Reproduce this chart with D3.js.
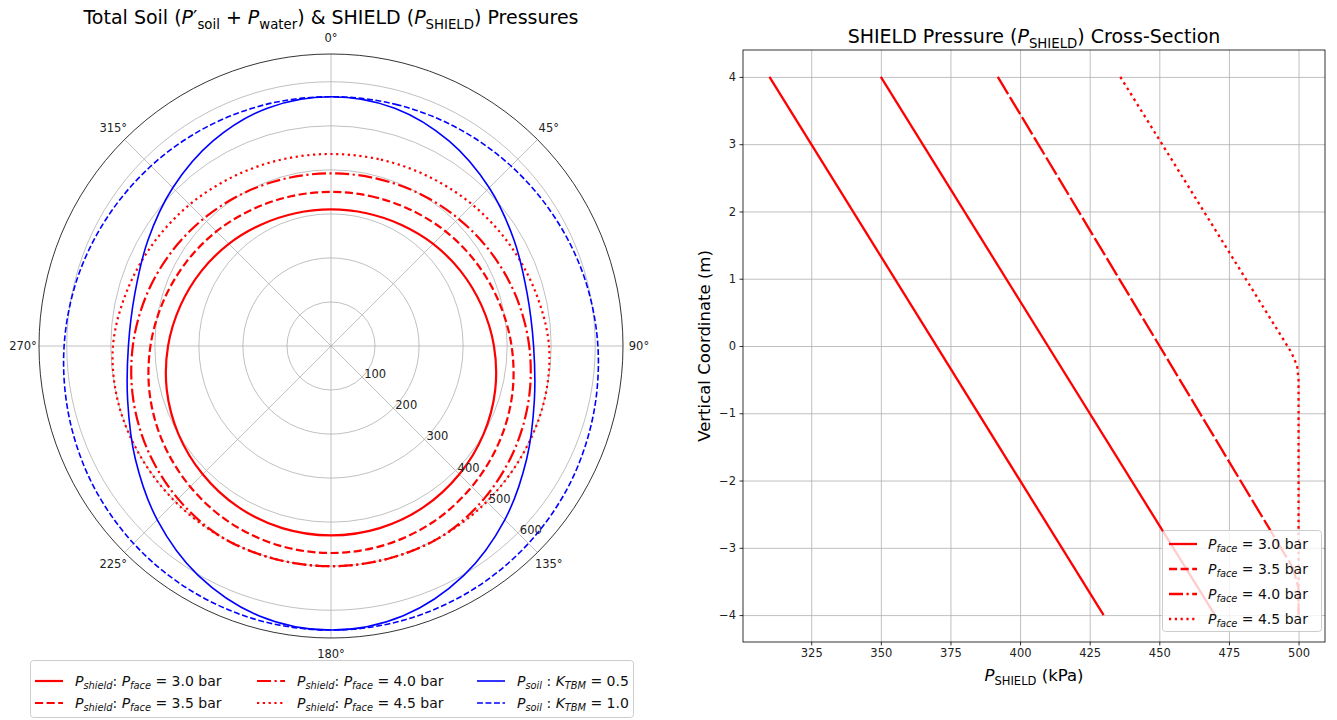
<!DOCTYPE html>
<html>
<head>
<meta charset="utf-8">
<script src="https://cdn.jsdelivr.net/npm/d3@7"></script>
<style>
body { margin: 0; background: #fff; }
svg { font-family: "DejaVu Sans", sans-serif; }
</style>
</head>
<body>
<svg id="chart" width="1337" height="720"></svg>
<script>
// values (kPa), angle 0 = crown, clockwise
const polarAngles = [0, 15, 30, 45, 60, 75, 90, 105, 120, 135, 150, 165, 180, 195, 210, 225, 240, 255, 270, 285, 300, 315, 330, 345];
const shield30 = [310, 312, 318, 328, 340, 354, 370, 386, 400, 412, 422, 428, 430, 428, 422, 412, 400, 386, 370, 354, 340, 328, 318, 312];
const shield35 = [350, 352, 358, 368, 380, 394, 410, 426, 440, 452, 462, 468, 470, 468, 462, 452, 440, 426, 410, 394, 380, 368, 358, 352];
const shield40 = [392, 394, 400, 409, 421, 435, 450, 465, 479, 491, 500, 500, 500, 500, 500, 491, 479, 465, 450, 435, 421, 409, 400, 394];
const shield45 = [436, 438, 444, 454, 466, 480, 495, 500, 500, 500, 500, 500, 500, 500, 500, 500, 500, 500, 495, 480, 466, 454, 444, 438];
const soilK05 = [566, 559, 537, 508, 480, 461, 460, 478, 513, 558, 602, 634, 645, 634, 602, 558, 513, 478, 460, 461, 480, 508, 537, 559];
const soilK10 = [566, 568, 572, 578, 586, 596, 606, 616, 626, 634, 640, 644, 645, 644, 640, 634, 626, 616, 606, 596, 586, 578, 572, 568];
const rTicks = [100, 200, 300, 400, 500, 600];
const thetaTicks = [0, 45, 90, 135, 180, 225, 270, 315];

// cross-section profiles: [P_SHIELD kPa, vertical coordinate m]
const prof30 = [[310, 4], [430, -4]];
const prof35 = [[350, 4], [470, -4]];
const prof40 = [[392, 4], [498, -3.3], [500, -3.6], [500, -4]];
const prof45 = [[436, 4], [497.5, -0.1], [499.5, -0.3], [500, -0.5], [500, -4]];
const faceLabels = ["3.0", "3.5", "4.0", "4.5"];
const kLabels = ["0.5", "1.0"];
const xTicks = [325, 350, 375, 400, 425, 450, 475, 500];
const yTicks = [4, 3, 2, 1, 0, -1, -2, -3, -4];

const svg = d3.select("#chart");
const GRID = "#b0b0b0";
const RED = "#ff0000", BLUE = "#0000ff";

// mathtext-ish text: parts = [text, style]; style: i italic, s subscript, si sub italic
function rich(el, parts, size) {
  let shift = 0;
  parts.forEach(p => {
    const st = p[1] || "";
    const t = el.append("tspan").text(p[0]);
    const target = st.includes("s") ? size * 0.24 : 0;
    if (target !== shift) { t.attr("dy", target - shift); shift = target; }
    if (st === "i" || st === "si") t.attr("font-style", "italic");
    if (st.includes("s")) t.attr("font-size", size * 0.7);
  });
  return el;
}

// ---------------- polar panel ----------------
const cx = 331, cy = 346, R = 292;
const rScale = d3.scaleLinear().domain([0, 663]).range([0, R]);
const pg = svg.append("g").attr("transform", `translate(${cx},${cy})`);

pg.selectAll("circle.grid").data(rTicks).join("circle")
  .attr("r", d => rScale(d)).attr("fill", "none").attr("stroke", GRID).attr("stroke-width", 0.8);
pg.selectAll("line.spoke").data(thetaTicks).join("line")
  .attr("x1", 0).attr("y1", 0)
  .attr("x2", d => R * Math.sin(d * Math.PI / 180))
  .attr("y2", d => -R * Math.cos(d * Math.PI / 180))
  .attr("stroke", GRID).attr("stroke-width", 0.8);

const radial = d3.lineRadial()
  .angle(d => d[0] * Math.PI / 180)
  .radius(d => rScale(d[1]))
  .curve(d3.curveCatmullRomClosed.alpha(0.5));

const polarSeries = [
  { v: shield30, c: RED, w: 2.2, dash: null },
  { v: shield35, c: RED, w: 2.2, dash: "8.1,3.5" },
  { v: shield40, c: RED, w: 2.2, dash: "14,3.5,2.2,3.5" },
  { v: shield45, c: RED, w: 2.2, dash: "2.2,3.6" },
  { v: soilK05, c: BLUE, w: 1.6, dash: null },
  { v: soilK10, c: BLUE, w: 1.6, dash: "5.9,2.6" }
];
polarSeries.forEach(s => {
  pg.append("path").attr("d", radial(d3.zip(polarAngles, s.v)))
    .attr("fill", "none").attr("stroke", s.c).attr("stroke-width", s.w)
    .attr("stroke-dasharray", s.dash);
});

pg.append("circle").attr("r", R).attr("fill", "none").attr("stroke", "#000").attr("stroke-width", 0.8);

// radial labels along 135°
const a135 = 135 * Math.PI / 180;
pg.selectAll("text.rl").data(rTicks).join("text")
  .attr("x", d => rScale(d) * Math.sin(a135) + 2)
  .attr("y", d => -rScale(d) * Math.cos(a135) + 1)
  .attr("font-size", 11.5).attr("fill", "#222").text(d => d);

pg.selectAll("text.tl").data(thetaTicks).join("text")
  .attr("x", d => (R + 16) * Math.sin(d * Math.PI / 180))
  .attr("y", d => -(R + 16) * Math.cos(d * Math.PI / 180))
  .attr("text-anchor", "middle").attr("dominant-baseline", "central")
  .attr("font-size", 11.5).attr("fill", "#222").text(d => d + "°");

rich(svg.append("text").attr("x", cx).attr("y", 24).attr("text-anchor", "middle").attr("font-size", 19),
  [["Total Soil ("], ["P", "i"], ["′"], ["soil", "s"], [" + "], ["P", "i"], ["water", "s"],
   [") & SHIELD ("], ["P", "i"], ["SHIELD", "s"], [") Pressures"]], 19);

// polar legend
const lg = svg.append("g");
lg.append("rect").attr("x", 30.5).attr("y", 660.5).attr("width", 603).attr("height", 57).attr("rx", 3)
  .attr("fill", "#fff").attr("fill-opacity", 0.8).attr("stroke", "#cccccc");
const legCols = [35, 257, 477], legRows = [681, 703];
const legItems = [
  { s: polarSeries[0], col: 0, row: 0, parts: [["P", "i"], ["shield", "si"], [": "], ["P", "i"], ["face", "si"], [" = " + faceLabels[0] + " bar"]] },
  { s: polarSeries[1], col: 0, row: 1, parts: [["P", "i"], ["shield", "si"], [": "], ["P", "i"], ["face", "si"], [" = " + faceLabels[1] + " bar"]] },
  { s: polarSeries[2], col: 1, row: 0, parts: [["P", "i"], ["shield", "si"], [": "], ["P", "i"], ["face", "si"], [" = " + faceLabels[2] + " bar"]] },
  { s: polarSeries[3], col: 1, row: 1, parts: [["P", "i"], ["shield", "si"], [": "], ["P", "i"], ["face", "si"], [" = " + faceLabels[3] + " bar"]] },
  { s: polarSeries[4], col: 2, row: 0, parts: [["P", "i"], ["soil", "si"], [" : "], ["K", "i"], ["TBM", "si"], [" = " + kLabels[0]]] },
  { s: polarSeries[5], col: 2, row: 1, parts: [["P", "i"], ["soil", "si"], [" : "], ["K", "i"], ["TBM", "si"], [" = " + kLabels[1]]] }
];
legItems.forEach(it => {
  const x = legCols[it.col], y = legRows[it.row];
  lg.append("line").attr("x1", x).attr("x2", x + 28).attr("y1", y).attr("y2", y)
    .attr("stroke", it.s.c).attr("stroke-width", it.s.w).attr("stroke-dasharray", it.s.dash);
  rich(lg.append("text").attr("x", x + 40).attr("y", y + 5).attr("font-size", 14).attr("fill", "#111"), it.parts, 14);
});

// ---------------- cross-section panel ----------------
const L = 743, Rt = 1325, T = 50, B = 642;
const x = d3.scaleLinear().domain([300.5, 509.5]).range([L, Rt]);
const y = d3.scaleLinear().domain([-4.4, 4.4]).range([B, T]);
const g = svg.append("g");

g.append("g").attr("transform", `translate(0,${B})`)
  .call(d3.axisBottom(x).tickValues(xTicks).tickSize(-(B - T)).tickFormat(""))
  .call(a => a.select(".domain").remove())
  .call(a => a.selectAll("line").attr("stroke", GRID).attr("stroke-width", 0.8));
g.append("g").attr("transform", `translate(${L},0)`)
  .call(d3.axisLeft(y).tickValues(yTicks).tickSize(-(Rt - L)).tickFormat(""))
  .call(a => a.select(".domain").remove())
  .call(a => a.selectAll("line").attr("stroke", GRID).attr("stroke-width", 0.8));

const line = d3.line().x(d => x(d[0])).y(d => y(d[1]));
const profSeries = [
  { v: prof30, dash: null, ldash: null },
  { v: prof35, dash: null, ldash: "8.1,3.5" },
  { v: prof40, dash: "20,3.5", ldash: "14,3.5,2.2,3.5" },
  { v: prof45, dash: "2.6,3.8", ldash: "2.2,3.6" }
];
profSeries.forEach(s => {
  g.append("path").attr("d", line(s.v)).attr("fill", "none").attr("stroke", RED)
    .attr("stroke-width", 2.3).attr("stroke-dasharray", s.dash);
});

g.append("rect").attr("x", L).attr("y", T).attr("width", Rt - L).attr("height", B - T)
  .attr("fill", "none").attr("stroke", "#000").attr("stroke-width", 0.8);

const xa = g.append("g").attr("transform", `translate(0,${B})`)
  .call(d3.axisBottom(x).tickValues(xTicks).tickSize(3.5).tickPadding(3.5));
const ya = g.append("g").attr("transform", `translate(${L},0)`)
  .call(d3.axisLeft(y).tickValues(yTicks).tickSize(3.5).tickPadding(3.5).tickFormat(d => d < 0 ? "−" + (-d) : d));
[xa, ya].forEach(a => {
  a.select(".domain").remove();
  a.selectAll("line").attr("stroke", "#000").attr("stroke-width", 0.8);
  a.selectAll("text").attr("font-size", 11.5).attr("fill", "#222").attr("font-family", "DejaVu Sans");
});

rich(svg.append("text").attr("x", (L + Rt) / 2).attr("y", 43).attr("text-anchor", "middle").attr("font-size", 19),
  [["SHIELD Pressure ("], ["P", "i"], ["SHIELD", "s"], [") Cross-Section"]], 19);
rich(svg.append("text").attr("x", (L + Rt) / 2).attr("y", 681).attr("text-anchor", "middle").attr("font-size", 16.5),
  [["P", "i"], ["SHIELD", "s"], [" (kPa)"]], 16.5);
svg.append("text").attr("transform", `translate(710,${(T + B) / 2}) rotate(-90)`)
  .attr("text-anchor", "middle").attr("font-size", 16.5).text("Vertical Coordinate (m)");

// cross-section legend
const rl = svg.append("g");
rl.append("rect").attr("x", 1162.5).attr("y", 530.5).attr("width", 159).attr("height", 101).attr("rx", 3)
  .attr("fill", "#fff").attr("fill-opacity", 0.8).attr("stroke", "#cccccc");
const rRows = [544, 569, 594, 619];
profSeries.forEach((s, i) => {
  rl.append("line").attr("x1", 1169).attr("x2", 1197).attr("y1", rRows[i]).attr("y2", rRows[i])
    .attr("stroke", RED).attr("stroke-width", 2.3).attr("stroke-dasharray", s.ldash);
  rich(rl.append("text").attr("x", 1208).attr("y", rRows[i] + 5).attr("font-size", 14).attr("fill", "#111"),
    [["P", "i"], ["face", "si"], [" = " + faceLabels[i] + " bar"]], 14);
});
</script>
</body>
</html>
